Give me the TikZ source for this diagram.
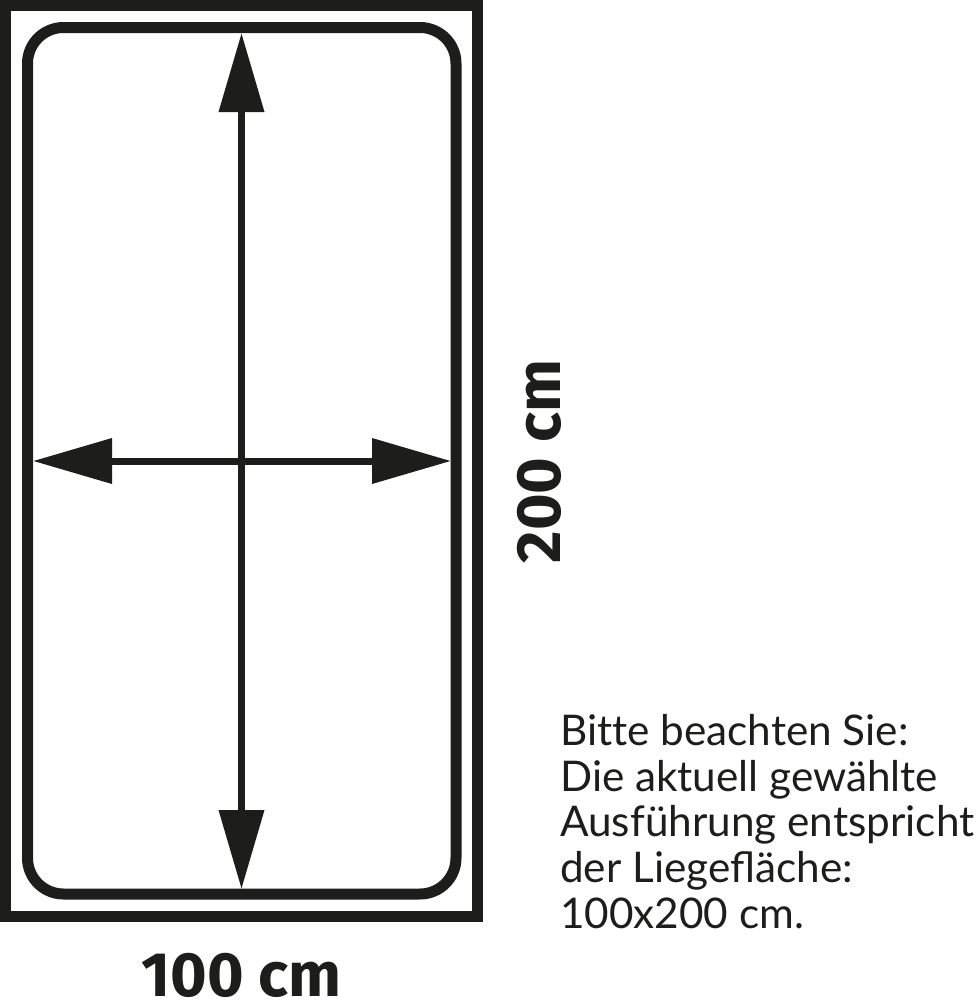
\documentclass[tikz,border=0pt]{standalone}
\usepackage{fontspec}
\setmainfont{Fira Sans}
\newfontfamily\notefont{Lato}
\usetikzlibrary{arrows.meta}
\definecolor{ink}{HTML}{1D1D1B}
\tikzset{
  frame/.style={draw=ink, line width=8.25pt},
  dimarrow/.style={draw=ink, line width=5.25pt, {Triangle[length=59.25pt,width=33pt]}-{Triangle[length=59.25pt,width=33pt]}},
  dimlabel/.style={text=ink, font=\fontsize{47}{47}\selectfont\bfseries, inner sep=0pt},
  note/.style={text=ink, font=\notefont\fontsize{31.7}{34.2}\selectfont, inner sep=0pt, align=left}
}
\begin{document}
\begin{tikzpicture}[x=0.75pt,y=-0.75pt]
\useasboundingbox (0,0) rectangle (980,1000);
\draw[frame] (5.5,5.5) rectangle (477.5,916.5);
\draw[frame, rounded corners=27pt] (27.5,27.5) rectangle (456,894);
\coordinate (vtop) at (241.5,33);
\coordinate (vbot) at (241.5,889);
\coordinate (hleft) at (33,461);
\coordinate (hright) at (451,461);
\draw[dimarrow] (vtop) -- (vbot);
\draw[dimarrow] (hleft) -- (hright);
\node[dimlabel, anchor=base] (w) at (241.5,996) {100 cm};
\node[dimlabel, anchor=base, rotate=90] (h) at (560,461.5) {200 cm};
\node[note, anchor=base west] (n1) at (560,745.7) {Bit\kern0pt te beachten Sie:};
\node[note, anchor=base west] (n2) at (560,791.3) {Die aktuell gewählte};
\node[note, anchor=base west] (n3) at (560,836.9) {Ausführung entspricht};
\node[note, anchor=base west] (n4) at (560,882.5) {der Liegefläche:};
\node[note, anchor=base west] (n5) at (560,928.1) {100x200 cm.};
\end{tikzpicture}
\end{document}
